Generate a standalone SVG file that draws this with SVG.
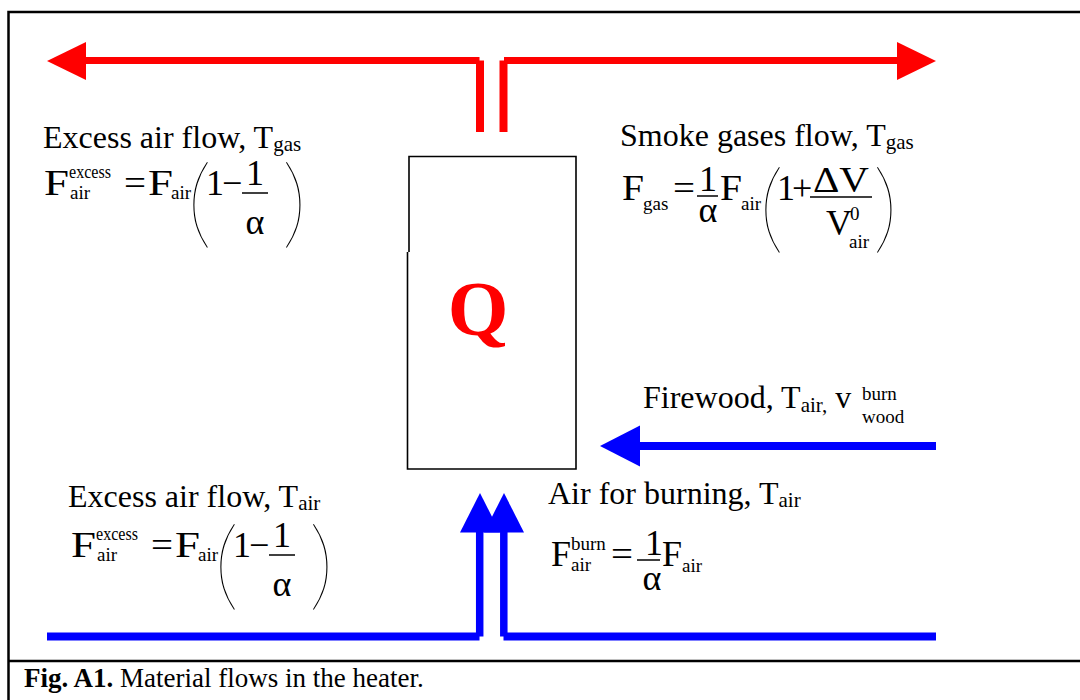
<svg xmlns="http://www.w3.org/2000/svg" width="1080" height="700" viewBox="0 0 1080 700">
<style>
text{font-family:"Liberation Serif","Times New Roman",serif;fill:#000}
.lab{font-size:32px}
.m{font-size:36px}
.s{font-size:19px}
.par{font-family:"Lato","Liberation Sans",sans-serif;font-weight:100;font-size:99px}
.q{font-size:78px;font-weight:bold;fill:#f00}
.cap{font-size:27px}
.frame{fill:none;stroke:#000;stroke-width:2.5}
.bar{stroke:#000;stroke-width:1.5}
.red{stroke:#f00;fill:none}
.blue{stroke:#00f;fill:none}
</style>
<g id="frame">
<path class="frame" d="M1080,12 H8.5 V700"/>
<line class="frame" x1="8.5" y1="661" x2="1080" y2="661"/>
</g>
<g id="connectors">
<line class="red" x1="85" y1="60.5" x2="479.5" y2="60.5" stroke-width="7"/>
<line class="red" x1="480" y1="60.5" x2="480" y2="132" stroke-width="8"/>
<polygon fill="#f00" points="47,61 86,42 86,80"/>
<line class="red" x1="504" y1="60.5" x2="898" y2="60.5" stroke-width="7"/>
<line class="red" x1="503.5" y1="60.5" x2="503.5" y2="132" stroke-width="8"/>
<polygon fill="#f00" points="936,61 897,42 897,80"/>
<line class="blue" x1="47" y1="636.5" x2="479.5" y2="636.5" stroke-width="8"/>
<line class="blue" x1="479.7" y1="636.5" x2="479.7" y2="530" stroke-width="7.5"/>
<polygon fill="#00f" points="480,493 460,532.5 500,532.5"/>
<line class="blue" x1="503.5" y1="636.5" x2="936" y2="636.5" stroke-width="8"/>
<line class="blue" x1="503.8" y1="636.5" x2="503.8" y2="530" stroke-width="7.5"/>
<polygon fill="#00f" points="504,493 484,532.5 524,532.5"/>
<line class="blue" x1="639" y1="446" x2="936" y2="446" stroke-width="8"/>
<polygon fill="#00f" points="600,446 640,425.5 640,466.5"/>
</g>
<g id="heater">
<path d="M409,252 V156.5 H576 V469 H407.5 V252" fill="none" stroke="#000" stroke-width="1.6"/>
<text class="q" x="478" y="335" text-anchor="middle">Q</text>
</g>
<g id="excess-gas">
<text class="lab" x="43" y="148">Excess air flow, T<tspan font-size="21" dy="3">gas</tspan></text>
<g transform="translate(44,195)">
<text class="m" x="0" y="0" textLength="25" lengthAdjust="spacingAndGlyphs">F</text>
<text class="s" x="25" y="-17" textLength="42" lengthAdjust="spacingAndGlyphs">excess</text>
<text class="s" x="26" y="4">air</text>
<text class="m" x="80" y="0" textLength="22" lengthAdjust="spacingAndGlyphs">=</text>
<text class="m" x="104" y="0" textLength="25" lengthAdjust="spacingAndGlyphs">F</text>
<text class="s" x="127" y="4">air</text>
<text class="par" x="143" y="41">(</text>
<text class="m" x="162" y="0">1</text>
<text class="m" x="178" y="0">−</text>
<text class="m" x="211" y="-10" text-anchor="middle">1</text>
<line class="bar" x1="198" y1="-2" x2="224" y2="-2"/>
<text class="m" x="211" y="39" text-anchor="middle">α</text>
<text class="par" x="238" y="41">)</text>
</g>
</g>
<g id="smoke-gas">
<text class="lab" x="620" y="146">Smoke gases flow, T<tspan font-size="21" dy="3">gas</tspan></text>
<g transform="translate(622,200)">
<text class="m" x="0" y="0" textLength="22" lengthAdjust="spacingAndGlyphs">F</text>
<text class="s" x="21" y="10">gas</text>
<text class="m" x="51" y="0" textLength="22" lengthAdjust="spacingAndGlyphs">=</text>
<text class="m" x="86" y="-9" text-anchor="middle">1</text>
<line class="bar" x1="75" y1="-4" x2="96" y2="-4"/>
<text class="m" x="86" y="22" text-anchor="middle">α</text>
<text class="m" x="98" y="0" textLength="22" lengthAdjust="spacingAndGlyphs">F</text>
<text class="s" x="119" y="10">air</text>
<text class="par" x="137" y="41">(</text>
<text class="m" x="155" y="0">1</text>
<text class="m" x="170" y="0">+</text>
<text class="m" x="219" y="-8" text-anchor="middle" textLength="56" lengthAdjust="spacingAndGlyphs">ΔV</text>
<line class="bar" x1="188" y1="-3" x2="250" y2="-3"/>
<text class="m" x="204" y="35">V</text>
<text class="s" x="228" y="20">0</text>
<text class="s" x="227" y="48">air</text>
<text class="par" x="251" y="41">)</text>
</g>
</g>
<g id="firewood">
<text class="lab" x="643" y="408">Firewood, T<tspan font-size="21" dy="4">air,</tspan><tspan dy="-4">  v</tspan></text>
<text class="s" x="862" y="400">burn</text>
<text class="s" x="862" y="423">wood</text>
</g>
<g id="excess-air">
<text class="lab" x="68" y="507">Excess air flow, T<tspan font-size="21" dy="3">air</tspan></text>
<g transform="translate(71,557)">
<text class="m" x="0" y="0" textLength="25" lengthAdjust="spacingAndGlyphs">F</text>
<text class="s" x="25" y="-17" textLength="42" lengthAdjust="spacingAndGlyphs">excess</text>
<text class="s" x="26" y="4">air</text>
<text class="m" x="80" y="0" textLength="22" lengthAdjust="spacingAndGlyphs">=</text>
<text class="m" x="104" y="0" textLength="25" lengthAdjust="spacingAndGlyphs">F</text>
<text class="s" x="127" y="4">air</text>
<text class="par" x="143" y="41">(</text>
<text class="m" x="162" y="0">1</text>
<text class="m" x="178" y="0">−</text>
<text class="m" x="211" y="-10" text-anchor="middle">1</text>
<line class="bar" x1="198" y1="-2" x2="224" y2="-2"/>
<text class="m" x="211" y="39" text-anchor="middle">α</text>
<text class="par" x="238" y="41">)</text>
</g>
</g>
<g id="burn-air">
<text class="lab" x="548" y="504">Air for burning, T<tspan font-size="21" dy="3">air</tspan></text>
<g transform="translate(551,566)">
<text class="m" x="0" y="0">F</text>
<text class="s" x="20" y="-16">burn</text>
<text class="s" x="20" y="5">air</text>
<text class="m" x="60" y="0" textLength="22" lengthAdjust="spacingAndGlyphs">=</text>
<text class="m" x="103" y="-11" text-anchor="middle">1</text>
<line class="bar" x1="86" y1="-6" x2="109" y2="-6"/>
<text class="m" x="101" y="24" text-anchor="middle">α</text>
<text class="m" x="111" y="0">F</text>
<text class="s" x="131" y="6">air</text>
</g>
</g>
<g id="caption">
<text class="cap" x="24" y="687"><tspan font-weight="bold">Fig. A1.</tspan> Material flows in the heater.</text>
</g>
</svg>
